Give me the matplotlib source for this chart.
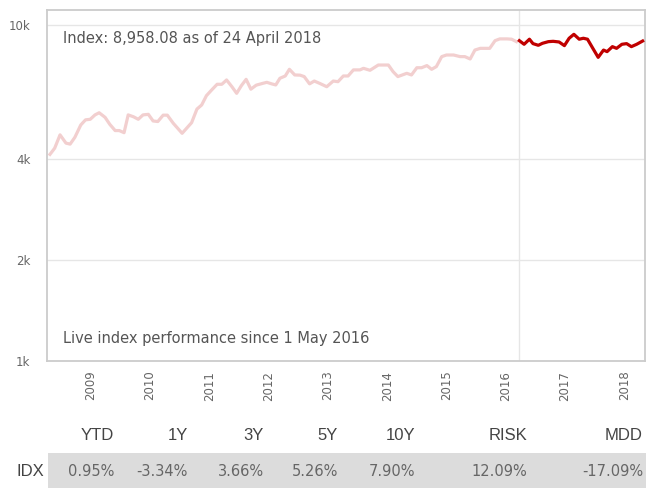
import matplotlib
matplotlib.use("Agg")
import matplotlib.pyplot as plt
from matplotlib.patches import Rectangle
from matplotlib.ticker import FixedLocator, NullLocator

# back-tested history (decimal year, index level)
hist_t = [2008.31, 2008.39, 2008.48, 2008.58, 2008.65, 2008.73, 2008.83, 2008.91, 2008.99,
          2009.07, 2009.14, 2009.24, 2009.32, 2009.41, 2009.48, 2009.56, 2009.63, 2009.72,
          2009.80, 2009.88, 2009.97, 2010.05, 2010.13, 2010.22, 2010.29, 2010.39, 2010.54,
          2010.70, 2010.79, 2010.87, 2010.95, 2011.04, 2011.13, 2011.21, 2011.29, 2011.38,
          2011.46, 2011.54, 2011.62, 2011.70, 2011.79, 2011.91, 2011.97, 2012.05, 2012.12,
          2012.19, 2012.28, 2012.35, 2012.44, 2012.53, 2012.60, 2012.69, 2012.77, 2012.87,
          2012.98, 2013.09, 2013.17, 2013.26, 2013.34, 2013.43, 2013.54, 2013.60, 2013.71,
          2013.85, 2014.02, 2014.10, 2014.18, 2014.33, 2014.41, 2014.50, 2014.58, 2014.67,
          2014.75, 2014.83, 2014.92, 2015.00, 2015.12, 2015.23, 2015.31, 2015.40, 2015.48,
          2015.57, 2015.73, 2015.82, 2015.90, 2016.02, 2016.10, 2016.18]
hist_v = [4120, 4300, 4710, 4450, 4420, 4630, 5040, 5220, 5240,
          5400, 5480, 5310, 5060, 4850, 4850, 4780, 5400, 5330,
          5240, 5400, 5420, 5180, 5160, 5390, 5390, 5100, 4760,
          5120, 5620, 5780, 6160, 6410, 6660, 6660, 6860, 6550,
          6260, 6600, 6890, 6440, 6620, 6710, 6750, 6680, 6630,
          6940, 7050, 7380, 7100, 7090, 7020, 6680, 6810, 6690,
          6550, 6810, 6780, 7050, 7050, 7350, 7350, 7430, 7330,
          7600, 7600, 7260, 7020, 7180, 7100, 7460, 7460, 7570,
          7380, 7520, 8050, 8140, 8140, 8050, 8050, 7920, 8420,
          8520, 8520, 8980, 9090, 9090, 9070, 8920]

# live performance
live_t = [2016.23, 2016.31, 2016.40, 2016.46, 2016.55, 2016.62, 2016.72, 2016.80, 2016.90,
          2016.99, 2017.07, 2017.15, 2017.24, 2017.31, 2017.38, 2017.47, 2017.56, 2017.65,
          2017.71, 2017.80, 2017.87, 2017.96, 2018.04, 2018.12, 2018.21, 2018.31]
live_v = [8980, 8760, 9070, 8800, 8700, 8820, 8920, 8940, 8900,
          8680, 9130, 9380, 9070, 9130, 9070, 8520, 8010, 8420,
          8330, 8620, 8520, 8760, 8800, 8620, 8760, 8958.08]
live_start = 2016.22

years = list(range(2009, 2019))
y_ticks = [1000, 2000, 4000, 10000]
y_labels = ["1k", "2k", "4k", "10k"]

stat_names = ["YTD", "1Y", "3Y", "5Y", "10Y", "RISK", "MDD"]
stat_values = ["0.95%", "-3.34%", "3.66%", "5.26%", "7.90%", "12.09%", "-17.09%"]

W, H = 654, 488
fig = plt.figure(figsize=(W / 100, H / 100), dpi=100)
ax = fig.add_axes([47 / W, 1 - 361 / H, 598 / W, 351 / H])

ax.plot(hist_t, hist_v, color="#f2cfcf", lw=2.3, solid_joinstyle="round", zorder=3)
ax.plot(live_t, live_v, color="#c00000", lw=2.3, solid_joinstyle="round", zorder=4)
ax.axvline(live_start, color="#e6e6e6", lw=1, zorder=1)

ax.set_yscale("log")
ax.set_ylim(1000, 11080)
ax.set_xlim(2008.26, 2018.35)

ax.yaxis.set_major_locator(FixedLocator(y_ticks))
ax.yaxis.set_minor_locator(NullLocator())
ax.set_yticklabels(y_labels)
ax.set_xticks(years)
ax.set_xticklabels([str(y) for y in years], rotation=90, va="top")
ax.tick_params(axis="y", length=0, pad=12, labelsize=8.5, labelcolor="#666666")
ax.tick_params(axis="x", length=0, pad=7, labelsize=8.5, labelcolor="#666666")
for lbl in ax.get_yticklabels():
    lbl.set_horizontalalignment("right")

ax.grid(axis="y", color="#e6e6e6", lw=1)
ax.set_axisbelow(True)
for side in ax.spines.values():
    side.set_color("#cccccc")
    side.set_linewidth(1.3)

# annotations inside the plot area (pixel offsets from the axes corner)
ax.text((63 - 47) / 598, 1 - (38 - 10) / 351, f"Index: {live_v[-1]:,.2f} as of 24 April 2018",
        transform=ax.transAxes, fontsize=10.5, color="#555555", va="center")
ax.text((63 - 47) / 598, 1 - (339 - 10) / 351, "Live index performance since 1 May 2016",
        transform=ax.transAxes, fontsize=10.5, color="#555555", va="center")

# summary table under the chart
fig.patches.append(Rectangle((48 / W, 0), 598 / W, 35 / H, transform=fig.transFigure,
                             facecolor="#dcdcdc", edgecolor="none"))
col_right = [114, 188, 264, 338, 415, 527, 643]
for name, val, xr in zip(stat_names, stat_values, col_right):
    fig.text(xr / W, 1 - 435 / H, name, family="Liberation Sans", fontsize=12,
             color="#444444", ha="right", va="center")
    fig.text(xr / W, 1 - 472 / H, val, fontsize=10.5, color="#666666",
             ha="right", va="center")
fig.text(16 / W, 1 - 472 / H, "IDX", family="Liberation Sans", fontsize=12,
         color="#444444", ha="left", va="center")

fig.savefig("out.png", dpi=100)
